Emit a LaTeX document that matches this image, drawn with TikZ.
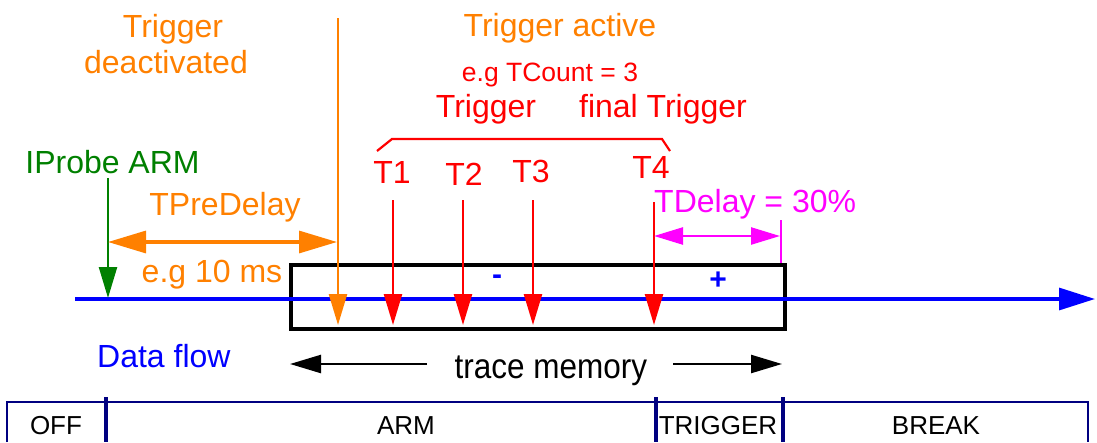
\documentclass[tikz,border=0pt]{standalone}
\usepackage{fontspec}
\setmainfont{Liberation Sans}
\usetikzlibrary{arrows.meta}
\definecolor{corange}{RGB}{255,128,0}
\definecolor{cred}{RGB}{255,0,0}
\definecolor{cgreen}{RGB}{0,128,0}
\definecolor{cblue}{RGB}{0,0,255}
\definecolor{cmag}{RGB}{255,0,255}
\definecolor{cnavy}{RGB}{0,0,128}
\begin{document}
\begin{tikzpicture}[x=1pt,y=-1pt,
  lbl/.style={inner sep=0pt,anchor=base,font=\fontsize{32}{38}\selectfont},
  small/.style={inner sep=0pt,anchor=base,font=\fontsize{26.5}{30}\selectfont},
  barlbl/.style={inner sep=0pt,anchor=base,font=\fontsize{26}{30}\selectfont},
  tipS/.style={-{Triangle[length=31pt,width=18pt]}},
  tipSS/.style={{Triangle[length=29pt,width=17pt]}-{Triangle[length=29pt,width=17pt]}},
  tipLL/.style={{Triangle[length=38pt,width=22pt]}-{Triangle[length=38pt,width=22pt]}},
  tipL/.style={-{Triangle[length=36pt,width=22pt]}}]
\useasboundingbox (0,0) rectangle (1097,442);

% trace memory box and data flow line
\node[draw=black,line width=3.5pt,minimum width=494pt,minimum height=64pt,inner sep=0pt,anchor=north west] (box) at (289,263) {};
\coordinate (flowS) at (75,299);
\coordinate (flowE) at (1095,299);
\draw[cblue,line width=3.2pt,tipL] (flowS) -- (flowE);

% texts top
\node[lbl,text=corange] (deact1) at (173,37) {Trigger};
\node[lbl,text=corange] (deact2) at (166,73) {deactivated};
\node[lbl,text=corange] (active) at (560,36) {Trigger active};
\node[small,text=cred] (tcount) at (550,81) {e.g TCount = 3};
\node[lbl,text=cred] (trig) at (486,117) {Trigger};
\node[lbl,text=cred] (ftrig) at (663,117) {final Trigger};

% orange vertical arrow
\coordinate (oTop) at (338,18);
\coordinate (oBot) at (338,325);
\draw[corange,line width=2.6pt,tipS] (oTop) -- (oBot);

% IProbe ARM
\node[lbl,text=cgreen] (iprobe) at (112.5,173) {IProbe ARM};
\coordinate (gTop) at (108,178);
\coordinate (gBot) at (108,298);
\draw[cgreen,line width=2.4pt,tipS] (gTop) -- (gBot);

% TPreDelay
\node[lbl,text=corange] (tpre) at (225,215) {TPreDelay};
\coordinate (pL) at (108,242);
\coordinate (pR) at (337,242);
\draw[corange,line width=3.2pt,tipLL] (pL) -- (pR);
\node[lbl,text=corange] (eg10) at (212,282) {e.g 10 ms};

% bracket
\coordinate (b1) at (377,151);
\coordinate (b2) at (392,139);
\coordinate (b3) at (662,139);
\coordinate (b4) at (670,151);
\draw[cred,line width=2.2pt] (b1) -- (b2) -- (b3) -- (b4);

% T labels and arrows
\node[lbl,text=cred] (t1) at (392,183) {T1};
\node[lbl,text=cred] (t2) at (464,185) {T2};
\node[lbl,text=cred] (t3) at (531,182) {T3};
\node[lbl,text=cred] (t4) at (651,178) {T4};
\coordinate (a1) at (393,200); \coordinate (e1) at (393,325);
\coordinate (a2) at (463,200); \coordinate (e2) at (463,325);
\coordinate (a3) at (533,200); \coordinate (e3) at (533,325);
\coordinate (a4) at (654,202); \coordinate (e4) at (654,325);
\draw[cred,line width=2.4pt,tipS] (a1) -- (e1);
\draw[cred,line width=2.4pt,tipS] (a2) -- (e2);
\draw[cred,line width=2.4pt,tipS] (a3) -- (e3);
\draw[cred,line width=2.4pt,tipS] (a4) -- (e4);

% minus / plus
\node[inner sep=0pt,text=cblue,font=\fontsize{30}{30}\selectfont\bfseries] (minus) at (497,280) {-};
\node[inner sep=0pt,text=cblue,font=\fontsize{30}{30}\selectfont\bfseries] (plus) at (718,281) {+};

% TDelay
\node[lbl,text=cmag,anchor=base west] (tdelay) at (654,212) {TDelay = 30\%};
\coordinate (dL) at (654,236);
\coordinate (dR) at (780,236);
\draw[cmag,line width=2.4pt,tipSS] (dL) -- (dR);
\coordinate (tkT) at (781,220);
\coordinate (tkB) at (781,263);
\draw[cmag,line width=2.4pt] (tkT) -- (tkB);

% data flow, trace memory
\node[lbl,text=cblue,anchor=base west] (dflow) at (97,367) {Data flow};
\node[inner sep=0pt,anchor=base,font=\fontsize{35}{40}\selectfont,xscale=0.9] (tmem) at (551,378) {trace memory};
\coordinate (mL1) at (427,364); \coordinate (mL2) at (290,364);
\coordinate (mR1) at (673,364); \coordinate (mR2) at (782,364);
\draw[black,line width=2.4pt,tipS] (mL1) -- (mL2);
\draw[black,line width=2.4pt,tipS] (mR1) -- (mR2);

% bottom state bar
\coordinate (s0) at (7,442); \coordinate (s1) at (7,402);
\coordinate (s2) at (1088,402); \coordinate (s3) at (1088,442);
\draw[cnavy,line width=2.8pt] (s0) -- (s1) -- (s2) -- (s3);
\coordinate (d1a) at (106,397); \coordinate (d1b) at (106,442);
\coordinate (d2a) at (656,397); \coordinate (d2b) at (656,442);
\coordinate (d3a) at (783,397); \coordinate (d3b) at (783,442);
\draw[cnavy,line width=3.5pt] (d1a) -- (d1b);
\draw[cnavy,line width=3.5pt] (d2a) -- (d2b);
\draw[cnavy,line width=3.5pt] (d3a) -- (d3b);
\node[barlbl] (off) at (56,434) {OFF};
\node[barlbl] (arm) at (406,434) {ARM};
\node[barlbl] (trg) at (718,434) {TRIGGER};
\node[barlbl] (brk) at (936,434) {BREAK};
\end{tikzpicture}
\end{document}
